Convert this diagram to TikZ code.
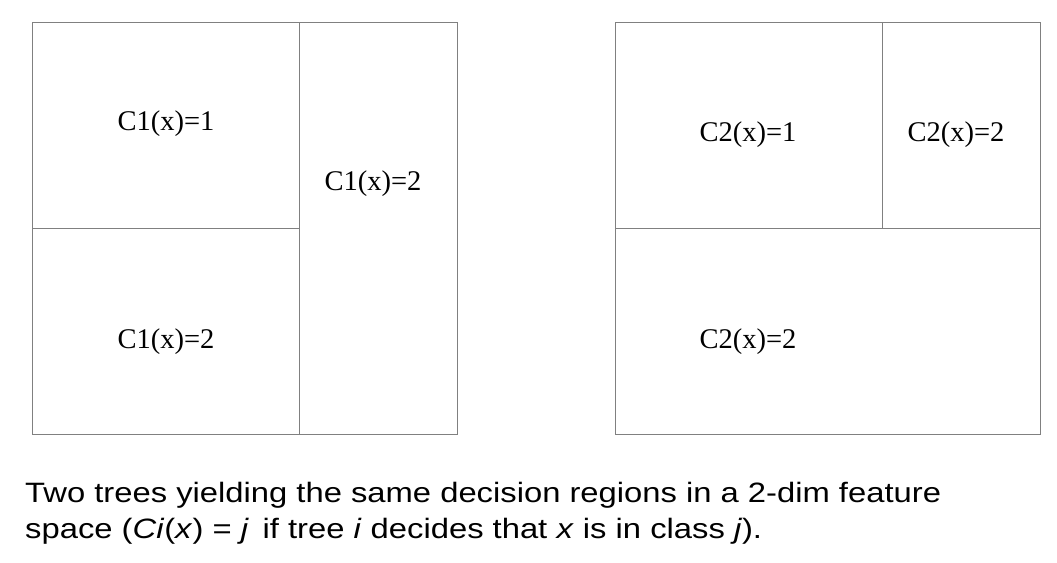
\documentclass[tikz,border=0pt]{standalone}
\usepackage{fontspec}
\setmainfont{Liberation Serif}
\newfontfamily\capfont{Liberation Sans}[FakeStretch=1.17]
\tikzset{
    region/.style={draw=black!50, line width=1pt},
    classlabel/.style={font=\fontsize{28.5}{31}\selectfont},
    caption/.style={anchor=base west, inner sep=0pt, font=\capfont\fontsize{28}{32}\selectfont}
}
\begin{document}
\begin{tikzpicture}[x=1pt, y=-1pt]
    \useasboundingbox (0,0) rectangle (1057,562);
    % first tree
    \draw[region] (32,22) rectangle (457,434);
    \draw[region] (299,22) -- (299,434);
    \draw[region] (32,228) -- (299,228);
    % second tree
    \draw[region] (615,22) rectangle (1040,434);
    \draw[region] (615,228) -- (1040,228);
    \draw[region] (882,22) -- (882,228);
    \foreach \name/\x/\y/\label in {ta/166/124/C1(x)=1, tb/373/184/C1(x)=2, tc/166/342/C1(x)=2,
                                   ua/748/135/C2(x)=1, ub/956/135/C2(x)=2, uc/748/342/C2(x)=2} {
        \node[classlabel] (\name) at (\x,\y) {\label};
    }
    \node[caption] (capa) at (25,502) {Two trees yielding the same decision regions in a 2-dim feature};
    \node[caption] (capb) at (25,538) {space (\textit{Ci}(\textit{x}) = \textit{j}\, if tree \textit{i} decides that \textit{x} is in class \textit{j}).};
\end{tikzpicture}
\end{document}
